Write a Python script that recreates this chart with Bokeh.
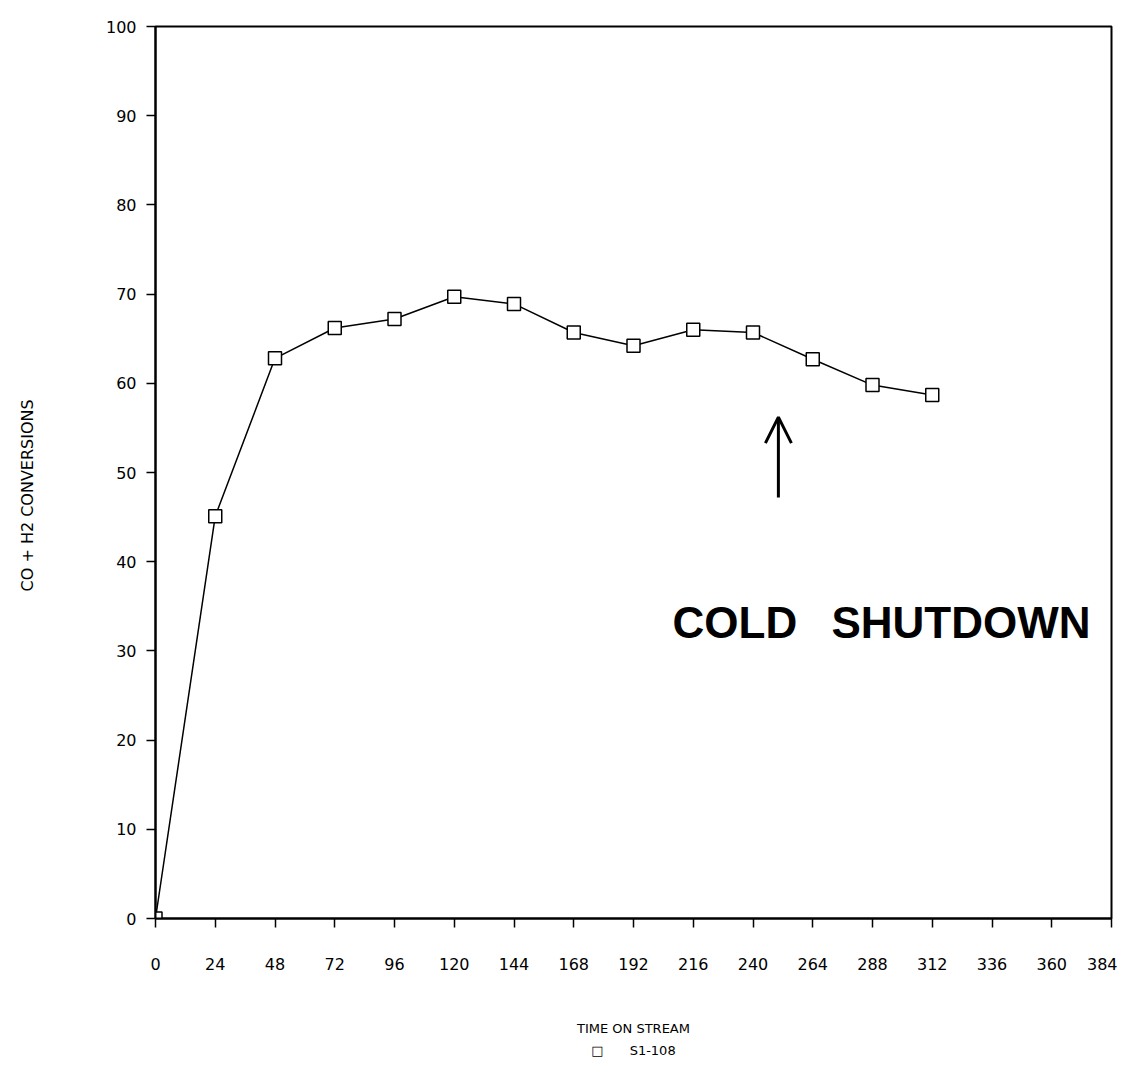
from bokeh.plotting import figure
from bokeh.models import (Range1d, FixedTicker, Label, Arrow, OpenHead)
from bokeh.embed import file_html
from bokeh.resources import INLINE

hours = [0, 24, 48, 72, 96, 120, 144, 168, 192, 216, 240, 264, 288, 312]
conversion = [0, 45.1, 62.8, 66.2, 67.2, 69.7, 68.9, 65.7, 64.2, 66.0, 65.7, 62.7, 59.8, 58.7]
x_ticks = list(range(0, 385, 24))
y_ticks = list(range(0, 101, 10))
series_name = "S1-108"
x_title = "TIME ON STREAM"

p = figure(frame_width=956, frame_height=892, output_backend="svg", toolbar_location=None,
           x_range=Range1d(0, 384), y_range=Range1d(0, 100),
           min_border_left=155, min_border_right=6, min_border_top=26, min_border_bottom=0)
p.background_fill_color = "white"
p.border_fill_color = "white"
p.outline_line_color = "black"
p.outline_line_width = 2
p.grid.visible = False

for ax in (p.xaxis[0], p.yaxis[0]):
    ax.axis_line_color = "black"
    ax.axis_line_width = 2
    ax.major_tick_line_color = "black"
    ax.major_tick_line_width = 1.5
    ax.minor_tick_line_color = None
    ax.major_tick_in = 0
    ax.major_tick_out = 9
    ax.major_label_text_font = "DejaVu Sans"
    ax.major_label_text_font_size = "16px"
    ax.major_label_text_color = "black"

p.xaxis.ticker = FixedTicker(ticks=x_ticks)
p.yaxis.ticker = FixedTicker(ticks=y_ticks)
p.xaxis.major_label_standoff = 30
p.yaxis.major_label_standoff = 10

# x-axis title with the series key line underneath (as in the reference)
p.xaxis.axis_label = x_title + "\n\u25a1\u2003\u2003" + series_name
p.xaxis.axis_label_text_font = "DejaVu Sans"
p.xaxis.axis_label_text_font_style = "normal"
p.xaxis.axis_label_text_font_size = "13px"
p.xaxis.axis_label_text_color = "black"
p.xaxis.axis_label_text_line_height = 1.5
p.xaxis.axis_label_standoff = 48

p.yaxis.axis_label = "CO    +    H2    CONVERSIONS"
p.yaxis.axis_label_text_font = "DejaVu Sans"
p.yaxis.axis_label_text_font_style = "normal"
p.yaxis.axis_label_text_font_size = "16px"
p.yaxis.axis_label_text_color = "black"
p.yaxis.axis_label_standoff = 66

p.line(hours, conversion, line_color="black", line_width=1.5)
p.scatter(hours, conversion, marker="square", size=13, fill_color="white",
          line_color="black", line_width=1.5)

p.add_layout(Label(x=207.7, y=33.2, text="COLD\u2002\u00a0SHUTDOWN", text_font="Liberation Sans",
                   text_font_style="bold", text_font_size="44px", text_color="black",
                   text_baseline="alphabetic"))
p.add_layout(Arrow(end=OpenHead(size=26, line_width=3, line_color="black"),
                   x_start=250.2, y_start=47.2, x_end=250.2, y_end=56.2,
                   line_width=3, line_color="black"))

open("out.html", "w").write(file_html(p, INLINE))
